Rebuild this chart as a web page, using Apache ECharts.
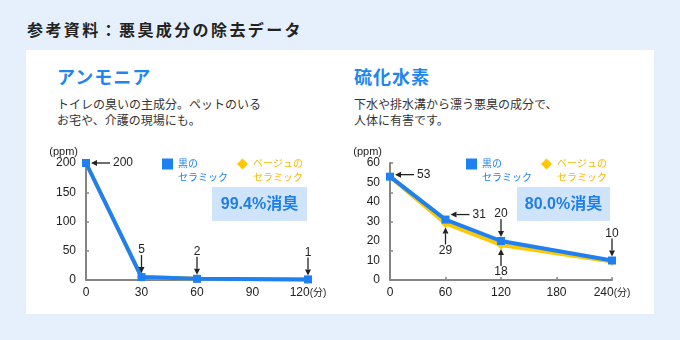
<!DOCTYPE html>
<html>
<head>
<meta charset="utf-8">
<script src="https://cdn.jsdelivr.net/npm/echarts@6/dist/echarts.min.js"></script>
<style>
html,body{margin:0;padding:0;background:#e6f0fc;}
#wrap{position:relative;width:680px;height:340px;overflow:hidden;background:#e6f0fc;font-family:"Noto Sans CJK JP","Liberation Sans",sans-serif;}
#panel{position:absolute;left:26px;top:50px;width:628px;height:264px;background:#ffffff;}
.t{position:absolute;white-space:nowrap;margin:0;}
#title{left:27px;top:18px;font-size:16px;line-height:22px;font-weight:bold;letter-spacing:2.4px;color:#222;}
.head{top:64px;font-size:18px;line-height:24px;font-weight:bold;letter-spacing:1px;color:#1f86ef;}
.desc{top:96px;font-size:12px;line-height:16px;color:#333;}
#chart{position:absolute;left:0;top:0;width:680px;height:340px;}
</style>
</head>
<body>
<div id="wrap">
  <div id="panel"></div>
  <div class="t" id="title">参考資料：悪臭成分の除去データ</div>
  <div class="t head" style="left:57px;">アンモニア</div>
  <div class="t desc" style="left:57px;">トイレの臭いの主成分。ペットのいる<br>お宅や、介護の現場にも。</div>
  <div class="t head" style="left:354px;">硫化水素</div>
  <div class="t desc" style="left:354px;">下水や排水溝から漂う悪臭の成分で、<br>人体に有害です。</div>
  <div id="chart"></div>
</div>
<script>
// ---- data ----
const seriesNames = ['黒のセラミック', 'ベージュのセラミック'];

const ammoniaTimes = [0, 30, 60, 120];
const ammoniaBlack = [200, 5, 2, 1];
const ammoniaBeige = [200, 5, 2, 1];
const ammoniaXTicks = [0, 30, 60, 90, 120];
const ammoniaYTicks = [0, 50, 100, 150, 200];
const ammoniaNotes = [
  {x: 0, y: 200, text: '200', dir: 'left'},
  {x: 30, y: 5, text: '5', dir: 'down'},
  {x: 60, y: 2, text: '2', dir: 'down'},
  {x: 120, y: 1, text: '1', dir: 'down'}
];
const ammoniaRate = '99.4%消臭';

const h2sTimes = [0, 60, 120, 240];
const h2sBlack = [53, 31, 20, 10];
const h2sBeige = [53, 29, 18, 9.5];
const h2sXTicks = [0, 60, 120, 180, 240];
const h2sYTicks = [0, 10, 20, 30, 40, 50, 60];
const h2sMinorTicks = [0, 15, 30, 45, 60];
const h2sNotes = [
  {x: 0, y: 53, text: '53', dir: 'left'},
  {x: 60, y: 31, text: '31', dir: 'left'},
  {x: 60, y: 29, text: '29', dir: 'up'},
  {x: 120, y: 20, text: '20', dir: 'down'},
  {x: 120, y: 18, text: '18', dir: 'up'},
  {x: 240, y: 10, text: '10', dir: 'down'}
];
const h2sRate = '80.0%消臭';

const unitX = '(分)';
const unitY = '(ppm)';

// ---- styles ----
const BLUE = '#1f80f2';
const YELLOW = '#ffc800';
const YELLOW_TXT = '#f7bb00';
const AXIS = '#858585';
const FONT = '"Liberation Sans","Noto Sans CJK JP",sans-serif';
const noteNudge = {'31': -5, '53': -2};

const chart = echarts.init(document.getElementById('chart'), null, {renderer: 'canvas'});

function pairs(xs, ys) { return xs.map((x, i) => [x, ys[i]]); }

function xAxisFor(g, ticks) {
  const last = ticks[ticks.length - 1];
  return {
    type: 'value', gridIndex: g,
    min: ticks[0], max: last, interval: ticks[1] - ticks[0],
    axisLine: {lineStyle: {color: AXIS, width: 2}},
    axisTick: {inside: true, length: 3, lineStyle: {color: AXIS, width: 1.5}},
    splitLine: {show: false},
    axisLabel: {
      margin: 7, color: '#222', fontSize: 12, fontFamily: FONT,
      formatter: v => v === last ? '{n|' + v + '}{u|' + unitX + '}' : String(v),
      rich: {n: {fontSize: 12, fontFamily: FONT, color: '#222'}, u: {fontSize: 10, fontFamily: FONT, color: '#222'}}
    }
  };
}
function yAxisFor(g, ticks, showTicks) {
  return {
    type: 'value', gridIndex: g,
    min: ticks[0], max: ticks[ticks.length - 1], interval: ticks[1] - ticks[0],
    name: unitY, nameLocation: 'end', nameGap: 5,
    nameTextStyle: {color: '#222', fontSize: 11, fontFamily: FONT, align: 'right', padding: [0, 8, 0, 0]},
    axisLine: {show: true, lineStyle: {color: AXIS, width: 2}},
    axisTick: {show: showTicks, inside: true, length: 3, lineStyle: {color: AXIS, width: 1.5}},
    splitLine: {show: false},
    axisLabel: {margin: 10, color: '#222', fontSize: 12, fontFamily: FONT}
  };
}
function lineSeries(name, data, g, color, symbol, size, z) {
  return {
    type: 'line', name: name, xAxisIndex: g, yAxisIndex: g,
    data: data, symbol: symbol, symbolSize: size, z: z,
    lineStyle: {color: color, width: 4},
    itemStyle: {color: color},
    animation: false
  };
}
function legendFor(left) {
  return {
    left: left, top: 143, orient: 'horizontal', padding: 0,
    itemWidth: 11, itemHeight: 11, itemGap: 9,
    selectedMode: false,
    formatter: n => '\n' + n.replace('の', 'の\n'),
    textStyle: {fontSize: 10, lineHeight: 14, fontFamily: FONT},
    data: [
      {name: seriesNames[0], icon: 'rect', itemStyle: {color: BLUE}, textStyle: {color: BLUE}},
      {name: seriesNames[1], icon: 'diamond', itemStyle: {color: YELLOW}, textStyle: {color: YELLOW_TXT}}
    ]
  };
}
function rateBox(x, y, w, h, text) {
  return [
    {type: 'rect', shape: {x: x, y: y, width: w, height: h}, style: {fill: '#cfe3fb'}, z: 1},
    {type: 'text', x: x + w / 2, y: y + h / 2 + 1, z: 2,
     style: {text: text, fill: '#1f7fe8', fontSize: 16, fontWeight: 'bold', fontFamily: FONT, align: 'center', verticalAlign: 'middle'}}
  ];
}

const h2sMinorAxis = {
  type: 'value', gridIndex: 1, position: 'right', offset: -222,
  min: h2sMinorTicks[0], max: h2sMinorTicks[h2sMinorTicks.length - 1], interval: h2sMinorTicks[1] - h2sMinorTicks[0],
  axisLine: {show: false}, axisLabel: {show: false}, splitLine: {show: false},
  axisTick: {show: true, inside: false, length: 3, lineStyle: {color: AXIS, width: 1.5}}
};

chart.setOption({
  animation: false,
  backgroundColor: 'transparent',
  grid: [
    {left: 86, top: 163, width: 222, height: 117},
    {left: 390, top: 163, width: 222, height: 117}
  ],
  xAxis: [xAxisFor(0, ammoniaXTicks), xAxisFor(1, h2sXTicks)],
  yAxis: [yAxisFor(0, ammoniaYTicks, true), yAxisFor(1, h2sYTicks, false), h2sMinorAxis],
  legend: [legendFor(162), legendFor(466)],
  series: [
    lineSeries(seriesNames[1], pairs(ammoniaTimes, ammoniaBeige), 0, YELLOW, 'diamond', 9, 2),
    lineSeries(seriesNames[0], pairs(ammoniaTimes, ammoniaBlack), 0, BLUE, 'rect', 8, 3),
    lineSeries(seriesNames[1], pairs(h2sTimes, h2sBeige), 1, YELLOW, 'diamond', 9, 2),
    lineSeries(seriesNames[0], pairs(h2sTimes, h2sBlack), 1, BLUE, 'rect', 8, 3)
  ],
  graphic: [].concat(rateBox(212, 187, 95, 34, ammoniaRate), rateBox(517, 187, 93, 34, h2sRate))
});

function arrowEls(g, n) {
  const p = chart.convertToPixel({gridIndex: g}, [n.x, n.y]);
  let tip, tail, tx, ty, align, va;
  if (n.dir === 'left') {
    const yy = p[1] + (noteNudge[n.text] || 0);
    tip = [p[0] + 5, yy]; tail = [p[0] + 24, yy];
    tx = tail[0] + 3; ty = yy; align = 'left'; va = 'middle';
  } else if (n.dir === 'down') {
    tip = [p[0], p[1] - 4]; tail = [p[0], p[1] - 22];
    tx = p[0]; ty = tail[1] + 1; align = 'center'; va = 'bottom';
  } else {
    tip = [p[0], p[1] + 4]; tail = [p[0], p[1] + 21];
    tx = p[0]; ty = tail[1]; align = 'center'; va = 'top';
  }
  const dx = Math.sign(tail[0] - tip[0]), dy = Math.sign(tail[1] - tip[1]);
  const bx = tip[0] + dx * 6, by = tip[1] + dy * 6;
  const ox = -dy * 3, oy = dx * 3;
  return [
    {type: 'line', z: 50, shape: {x1: bx, y1: by, x2: tail[0], y2: tail[1]}, style: {stroke: '#222', lineWidth: 1.3}},
    {type: 'polygon', z: 50, shape: {points: [tip, [bx + ox, by + oy], [bx - ox, by - oy]]}, style: {fill: '#222'}},
    {type: 'text', z: 50, x: tx, y: ty, style: {text: n.text, fill: '#222', fontSize: 12, fontFamily: FONT, align: align, verticalAlign: va}}
  ];
}

let extra = [];
ammoniaNotes.forEach(n => { extra = extra.concat(arrowEls(0, n)); });
h2sNotes.forEach(n => { extra = extra.concat(arrowEls(1, n)); });
chart.setOption({
  graphic: [].concat(rateBox(212, 187, 95, 34, ammoniaRate), rateBox(517, 187, 93, 34, h2sRate), extra)
});
</script>
</body>
</html>
